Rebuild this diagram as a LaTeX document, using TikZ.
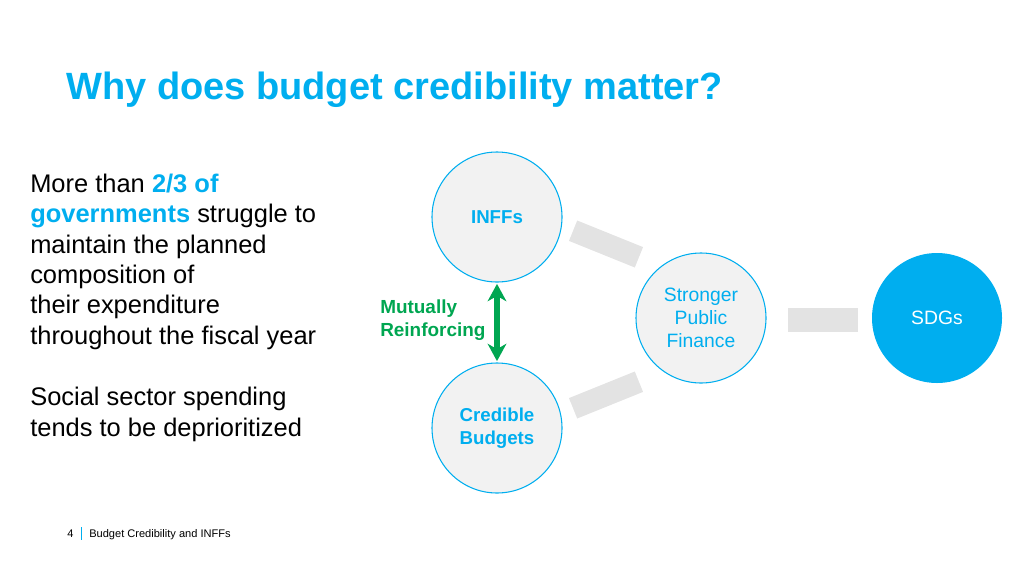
\documentclass[tikz,border=0pt]{standalone}
\usepackage{fontspec}
\setmainfont{Liberation Sans}
\usetikzlibrary{arrows.meta}
\definecolor{blue1}{HTML}{00AEEF}
\definecolor{circfill}{HTML}{F2F2F2}
\definecolor{bargray}{HTML}{E3E3E3}
\definecolor{green1}{HTML}{00A651}
\tikzset{
  circ/.style={circle, draw=blue1, line width=0.8pt, fill=circfill, minimum size=130*0.75pt, inner sep=0pt, text=blue1, align=center, font=\fontsize{14.5}{17.25}\selectfont},
  sdg/.style={circle, fill=blue1, minimum size=130*0.75pt, inner sep=0pt, text=white, font=\fontsize{14.5}{17.25}\selectfont},
  bar/.style={fill=bargray, draw=none, minimum width=71*0.75pt, minimum height=22*0.75pt, inner sep=0pt},
  lbl/.style={inner sep=0pt, anchor=north west, align=left},
}
\begin{document}
\begin{tikzpicture}[x=0.75pt, y=-0.75pt]
\useasboundingbox (0,0) rectangle (1024,575);
% title
\node[inner sep=0pt, anchor=base west, text=blue1, font=\fontsize{28.5}{34}\selectfont\bfseries] (title) at (66,99) {Why does budget credibility matter?};
% left text
\node[lbl, font=\fontsize{19.1}{22.7}\selectfont] (body) at (30,174) {More than \textcolor{blue1}{\bfseries 2/3 of}\\ \textcolor{blue1}{\bfseries governments} struggle to\\ maintain the planned\\ composition of\\ their expenditure\\ throughout the fiscal year\\[23.6pt] Social sector spending\\ tends to be deprioritized};
% circles
\node[circ, font=\fontsize{14}{17.25}\selectfont\bfseries] (inffs) at (497,217) {INFFs};
\node[circ, font=\fontsize{14}{17.25}\selectfont\bfseries] (cred) at (497,428) {Credible\\Budgets};
\node[circ] (spf) at (701,318) {Stronger\\Public\\Finance};
\node[sdg] (sdgs) at (937,318) {SDGs};
% bars
\node[bar, rotate=-22] (bar1) at (606,244) {};
\node[bar, rotate=22] (bar2) at (606,395) {};
\node[bar, minimum width=70*0.75pt, minimum height=24*0.75pt] (bar3) at (823,320) {};
% mutual arrow
\draw[green1, line width=4.5pt, {Stealth[length=13pt, width=14pt, inset=4pt]}-{Stealth[length=13pt, width=14pt, inset=4pt]}] ([yshift=-1pt]inffs.south) -- ([yshift=1pt]cred.north);
\node[inner sep=0pt, anchor=west, align=left, text=green1, font=\fontsize{14.2}{17.25}\selectfont\bfseries] (mut) at (380,320) {Mutually\\Reinforcing};
% footer
\node[inner sep=0pt, anchor=base west, font=\fontsize{8.3}{10}\selectfont] (pnum) at (67,537) {4};
\node[inner sep=0pt, anchor=base west, font=\fontsize{8.3}{10}\selectfont] (foot) at (89,537) {Budget Credibility and INFFs};
\draw[blue1, line width=0.7pt] (81,527) -- (81,540);
\end{tikzpicture}
\end{document}
